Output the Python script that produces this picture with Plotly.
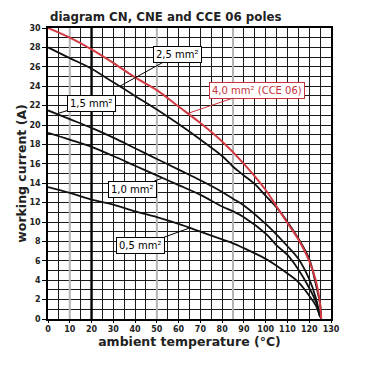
import plotly.graph_objects as go

# temperatures (°C) and working currents (A)
t_40 = [0, 10, 20, 30, 40, 50, 60, 70, 80, 90, 100, 105, 110, 115, 120, 123, 125, 125.5]
i_40 = [30.0, 29.0, 27.8, 26.4, 24.9, 23.6, 21.9, 20.2, 18.3, 16.0, 13.3, 11.6, 9.9, 8.2, 6.0, 4.0, 1.5, 0.0]

t_25 = [0, 10, 20, 30, 40, 50, 60, 70, 80, 85, 90, 95, 100, 105, 110, 115, 120, 123, 125, 125.5]
i_25 = [28.0, 26.9, 25.8, 24.4, 23.0, 21.6, 20.1, 18.5, 16.8, 15.7, 14.8, 13.9, 12.7, 11.5, 10.0, 8.3, 6.2, 3.6, 1.5, 0.2]

t_15 = [0, 10, 20, 30, 40, 50, 60, 70, 80, 85, 90, 100, 105, 110, 115, 120, 123, 125]
i_15 = [21.5, 20.6, 19.7, 18.7, 17.6, 16.5, 15.4, 14.3, 13.1, 12.4, 11.7, 9.8, 8.7, 7.5, 6.2, 4.1, 2.2, 0.2]

t_10 = [0, 10, 20, 30, 40, 50, 60, 70, 80, 85, 90, 100, 105, 110, 115, 120, 123, 125]
i_10 = [19.2, 18.5, 17.75, 16.8, 15.8, 14.8, 13.8, 12.8, 11.6, 11.1, 10.5, 8.8, 7.6, 6.6, 5.1, 3.2, 1.8, 0.2]

t_05 = [0, 10, 20, 30, 40, 50, 60, 70, 80, 85, 90, 100, 105, 110, 115, 120, 123, 125]
i_05 = [13.6, 13.0, 12.3, 11.8, 11.1, 10.5, 9.8, 9.0, 8.2, 7.8, 7.3, 6.2, 5.5, 4.7, 3.8, 2.4, 1.4, 0.2]

x_ticks = list(range(0, 131, 10))
y_ticks = list(range(0, 31, 2))
x_range = [0, 130]
y_range = [0, 30]

# label text, arrow target on curve (x, y), label centre (x, y)
labels = [
    ("2,5 mm²", 33, 24.0, 59.6, 27.3, "black"),
    ("1,5 mm²", 4.6, 21.2, 19.8, 22.2, "black"),
    ("4,0 mm² (CCE 06)", 64.3, 21.2, 95.8, 23.6, "#c8323c"),
    ("1,0 mm²", 52.2, 14.5, 38.7, 13.4, "black"),
    ("0,5 mm²", 65.2, 9.4, 42.5, 7.55, "black"),
]

fig = go.Figure()

# emphasised grid lines (drawn as traces so they sit above the axis grid, below the curves)
for gx, col, w in [(10, "#b4b4b4", 2), (50, "#b4b4b4", 2), (85, "#b4b4b4", 2), (20, "black", 2.4)]:
    fig.add_trace(go.Scatter(x=[gx, gx], y=y_range, mode="lines", line=dict(color=col, width=w),
                             showlegend=False, hoverinfo="skip"))

for tx, iy in [(t_05, i_05), (t_10, i_10), (t_15, i_15), (t_25, i_25)]:
    fig.add_trace(go.Scatter(x=tx, y=iy, mode="lines", line=dict(color="#111111", width=1.8),
                             line_shape="spline", showlegend=False, hoverinfo="skip"))
fig.add_trace(go.Scatter(x=t_40, y=i_40, mode="lines", line=dict(color="#d23a42", width=2),
                         line_shape="spline", showlegend=False, hoverinfo="skip"))

for txt, px, py, lx, ly, col in labels:
    fig.add_annotation(x=px, y=py, ax=lx, ay=ly, axref="x", ayref="y", xref="x", yref="y",
                       text=txt, showarrow=True, arrowhead=0, arrowwidth=1, arrowcolor=col,
                       font=dict(family="DejaVu Sans", size=10, color=col),
                       bgcolor="white", bordercolor=col, borderwidth=1, borderpad=2)

# the page body has an 8px default margin, so the figure is offset by 8px
fig.update_layout(
    width=372, height=372,
    margin=dict(l=40, r=49, t=20, b=61),
    paper_bgcolor="white", plot_bgcolor="white",
    title=dict(text="<b>diagram CN, CNE and CCE 06 poles</b>", x=0.113, xanchor="left",
               y=0.977, yanchor="middle", xref="container", yref="container",
               font=dict(family="DejaVu Sans", size=11.8, color="#222222")),
    font=dict(family="DejaVu Sans", color="#222222"),
)
fig.update_xaxes(range=x_range, tickvals=x_ticks, ticktext=[f"<b>{v}</b>" for v in x_ticks],
                 tickfont=dict(size=8), showgrid=True, gridcolor="#1a1a1a", gridwidth=1,
                 minor=dict(dtick=5, tick0=0, showgrid=True, gridcolor="#1a1a1a", gridwidth=1),
                 showline=True, linecolor="black", linewidth=1.5, mirror=True,
                 ticks="outside", ticklen=2, tickcolor="black", automargin=False,
                 title=dict(text="<b>ambient temperature (°C)</b>", font=dict(size=12.5), standoff=2),
                 zeroline=False)
fig.update_yaxes(range=y_range, tickvals=y_ticks, ticktext=[f"<b>{v}</b>" for v in y_ticks],
                 tickfont=dict(size=8), showgrid=True, gridcolor="#1a1a1a", gridwidth=1,
                 minor=dict(dtick=1, tick0=0, showgrid=True, gridcolor="#1a1a1a", gridwidth=1),
                 showline=True, linecolor="black", linewidth=1.5, mirror=True,
                 ticks="outside", ticklen=4, tickcolor="black", automargin=False,
                 title=dict(text="<b>working current (A)</b>", font=dict(size=12.5), standoff=0),
                 zeroline=False)

fig.write_html("out.html")
